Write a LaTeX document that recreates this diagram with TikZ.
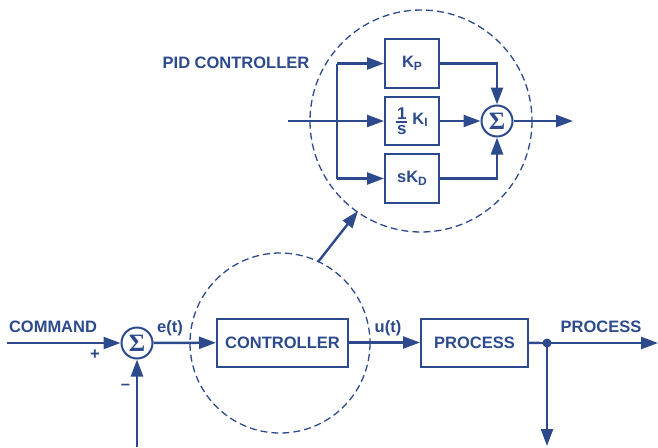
\documentclass[tikz,border=0pt]{standalone}
\usepackage{fontspec}
\setmainfont{Liberation Sans}
\newfontfamily\sigfont{Liberation Serif}
\usetikzlibrary{arrows.meta}
\definecolor{adblue}{RGB}{44,74,140}
\newcommand{\lab}{\fontsize{16.5}{18}\selectfont\bfseries}
\newcommand{\subl}[1]{\raisebox{-0.28ex}{\fontsize{12}{12}\selectfont #1}}
\newcommand{\fracs}{\raisebox{-1pt}{$\vcenter{\hbox to 11pt{\hss\fontsize{17}{17}\selectfont\bfseries 1\hss}\vskip2pt\hrule height1.8pt\vskip2pt\hbox to 11pt{\hss\fontsize{17}{17}\selectfont\bfseries s\hss}}$}}
\tikzset{
  blk/.style={draw=adblue, line width=2pt, minimum height=48pt, inner sep=0pt, text=adblue, font=\lab},
  sumc/.style={draw=adblue, line width=2pt, circle, minimum size=31pt, inner sep=0pt, text=adblue, font=\sigfont\fontsize{25}{25}\selectfont\bfseries},
  wire/.style={draw=adblue, line width=2.4pt},
  arr/.style={wire, -{Triangle[length=17pt,width=12pt]}},
  dcirc/.style={draw=adblue, line width=1.3pt, dash pattern=on 7pt off 4pt},
  txt/.style={text=adblue, font=\lab, inner sep=0pt},
}
\begin{document}
\begin{tikzpicture}[x=1pt,y=-1pt]
\useasboundingbox (0,0) rectangle (658,447);
% dashed circles
\coordinate (lc) at (280,343);
\coordinate (uc) at (421,121);
\draw[dcirc] (lc) circle (90);
\draw[dcirc] (uc) circle (111);
% lower loop
\coordinate (cmd) at (7,343);
\node[sumc] (s1) at (137,343) {Σ};
\node[blk, minimum width=131pt] (ctl) at (282.5,342.5) {CONTROLLER};
\node[blk, minimum width=107pt] (proc) at (474.5,342.5) {PROCESS};
\coordinate (dot) at (547,343);
\coordinate (outr) at (658,343);
\coordinate (outd) at (547,446);
\coordinate (fb) at (137,447);
\draw[arr] (cmd) -- (s1);
\draw[arr] (fb) -- (s1);
\draw[arr] (s1) -- (ctl);
\draw[arr] (ctl) -- (proc);
\draw[wire] (proc) -- (dot);
\draw[arr] (dot) -- (outr);
\draw[arr] (dot) -- (outd);
\fill[adblue] (dot) circle (4.5);
\node[txt] (tcmd) at (53,327) {COMMAND};
\node[txt] (tplus) at (95,355) {+};
\node[txt] (tminus) at (125.5,387) {–};
\node[txt] (te) at (170,328) {e(t)};
\node[txt] (tu) at (388,328) {u(t)};
\node[txt] (tproc) at (601,327) {PROCESS};
% link arrow
\coordinate (la) at (318,262);
\coordinate (lb) at (358,211);
\draw[arr] (la) -- (lb);
% PID
\node[txt] (tpid) at (236,63) {PID CONTROLLER};
\node[blk, minimum width=54pt, minimum height=49pt] (kp) at (412,63.5) {K\subl{P}};
\node[blk, minimum width=54pt, minimum height=48pt] (ki) at (412,121) {\fracs\hspace{5pt}K\subl{I}};
\node[blk, minimum width=54pt, minimum height=49pt] (kd) at (412,178.5) {sK\subl{D}};
\node[sumc] (s2) at (497,121) {Σ};
\coordinate (pin) at (288,121);
\coordinate (br) at (337,121);
\coordinate (brt) at (337,63.5);
\coordinate (brb) at (337,178.5);
\coordinate (pout) at (573,121);
\draw[wire] (pin) -- (br);
\draw[wire] (brt) -- (brb);
\draw[arr] (brt) -- (kp);
\draw[arr] (br) -- (ki);
\draw[arr] (brb) -- (kd);
\draw[arr] (kp.east) -| (s2.north);
\draw[arr] (ki) -- (s2);
\draw[arr] (kd.east) -| (s2.south);
\draw[arr] (s2) -- (pout);
\end{tikzpicture}
\end{document}
